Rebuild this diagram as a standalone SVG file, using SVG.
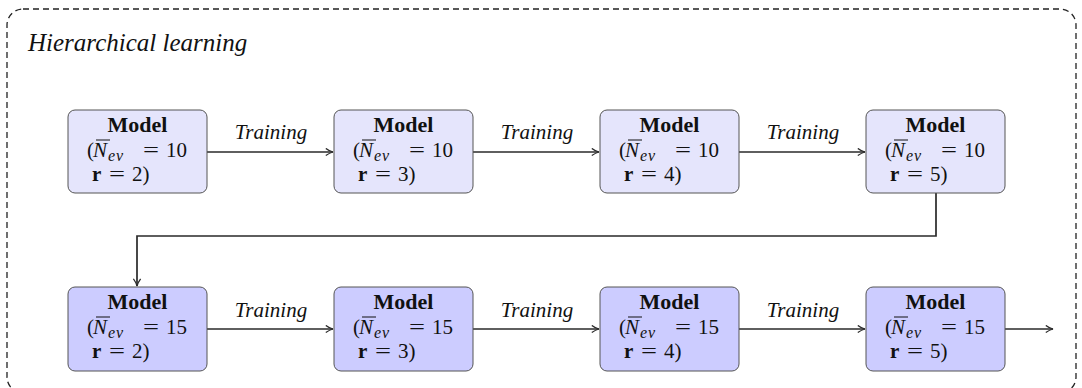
<svg xmlns="http://www.w3.org/2000/svg" width="1082" height="388" viewBox="0 0 1082 388" font-family="'Liberation Serif', 'Times New Roman', serif">
<defs>
<style>
.frame{fill:none;stroke:#222;stroke-width:1.3;stroke-dasharray:6 4}
.n1{fill:#e5e5fc;stroke:#555;stroke-width:1}
.n2{fill:#ccccff;stroke:#555;stroke-width:1}
text{fill:#111;font-family:'Liberation Serif','Times New Roman',serif}
.m{font-size:22px;font-weight:bold;text-anchor:middle}
.v{font-size:21px}
.i{font-style:italic}
.b{font-weight:bold}
.sub{font-size:16px;font-style:italic;letter-spacing:1px}
.ovl{stroke:#111;stroke-width:1}
.lbl{font-size:21px;font-style:italic;text-anchor:middle}
.title{font-size:25px;font-style:italic}
.c{fill:none;stroke:#2a2a2a;stroke-width:1.7}
</style>
<marker id="ah" viewBox="0 0 10 10" refX="9" refY="5" markerWidth="9" markerHeight="9" markerUnits="userSpaceOnUse" orient="auto">
<path d="M1,1 Q5,4 9,5 Q5,6 1,9" fill="none" stroke="#2a2a2a" stroke-width="1.4"/>
</marker>
<g id="l2">
<text class="v" x="19" y="47">(</text>
<text class="v i" x="25" y="47">N</text>
<line class="ovl" x1="28" y1="30" x2="42" y2="30"/>
<text class="sub" x="40" y="51">ev</text>
<text class="v" x="75" y="47" textLength="16" lengthAdjust="spacingAndGlyphs">=</text>
</g>
<text id="eq3" class="v" x="41" y="71" textLength="16" lengthAdjust="spacingAndGlyphs">=</text>
</defs>
<rect class="frame" x="7" y="9" width="1069" height="384" rx="16"/>
<text class="title" x="28" y="51">Hierarchical learning</text>

<g id="connectors">
<path class="c" d="M207,152 H333" marker-end="url(#ah)"/>
<path class="c" d="M473,152 H599" marker-end="url(#ah)"/>
<path class="c" d="M739,152 H865" marker-end="url(#ah)"/>
<path class="c" d="M936,193 V236 H137 V286" marker-end="url(#ah)"/>
<path class="c" d="M207,329 H333" marker-end="url(#ah)"/>
<path class="c" d="M473,329 H599" marker-end="url(#ah)"/>
<path class="c" d="M739,329 H865" marker-end="url(#ah)"/>
<path class="c" d="M1005,329 H1053" marker-end="url(#ah)"/>
<text class="lbl" x="271" y="139">Training</text>
<text class="lbl" x="537" y="139">Training</text>
<text class="lbl" x="803" y="139">Training</text>
<text class="lbl" x="271" y="317">Training</text>
<text class="lbl" x="537" y="317">Training</text>
<text class="lbl" x="803" y="317">Training</text>
</g>

<g id="n1" transform="translate(68,110)"><rect class="n1" width="139" height="83" rx="7"/>
<text class="m" x="69.5" y="22">Model</text><use href="#l2"/><text class="v" x="98" y="47">10</text>
<text class="v b" x="24" y="71">r</text><use href="#eq3"/><text class="v" x="64" y="71">2)</text></g>

<g id="n2" transform="translate(334,110)"><rect class="n1" width="139" height="83" rx="7"/>
<text class="m" x="69.5" y="22">Model</text><use href="#l2"/><text class="v" x="98" y="47">10</text>
<text class="v b" x="24" y="71">r</text><use href="#eq3"/><text class="v" x="64" y="71">3)</text></g>

<g id="n3" transform="translate(600,110)"><rect class="n1" width="139" height="83" rx="7"/>
<text class="m" x="69.5" y="22">Model</text><use href="#l2"/><text class="v" x="98" y="47">10</text>
<text class="v b" x="24" y="71">r</text><use href="#eq3"/><text class="v" x="64" y="71">4)</text></g>

<g id="n4" transform="translate(866,110)"><rect class="n1" width="139" height="83" rx="7"/>
<text class="m" x="69.5" y="22">Model</text><use href="#l2"/><text class="v" x="98" y="47">10</text>
<text class="v b" x="24" y="71">r</text><use href="#eq3"/><text class="v" x="64" y="71">5)</text></g>

<g id="n5" transform="translate(68,287)"><rect class="n2" width="139" height="84" rx="7"/>
<text class="m" x="69.5" y="22">Model</text><use href="#l2"/><text class="v" x="98" y="47">15</text>
<text class="v b" x="24" y="71">r</text><use href="#eq3"/><text class="v" x="64" y="71">2)</text></g>

<g id="n6" transform="translate(334,287)"><rect class="n2" width="139" height="84" rx="7"/>
<text class="m" x="69.5" y="22">Model</text><use href="#l2"/><text class="v" x="98" y="47">15</text>
<text class="v b" x="24" y="71">r</text><use href="#eq3"/><text class="v" x="64" y="71">3)</text></g>

<g id="n7" transform="translate(600,287)"><rect class="n2" width="139" height="84" rx="7"/>
<text class="m" x="69.5" y="22">Model</text><use href="#l2"/><text class="v" x="98" y="47">15</text>
<text class="v b" x="24" y="71">r</text><use href="#eq3"/><text class="v" x="64" y="71">4)</text></g>

<g id="n8" transform="translate(866,287)"><rect class="n2" width="139" height="84" rx="7"/>
<text class="m" x="69.5" y="22">Model</text><use href="#l2"/><text class="v" x="98" y="47">15</text>
<text class="v b" x="24" y="71">r</text><use href="#eq3"/><text class="v" x="64" y="71">5)</text></g>
</svg>
